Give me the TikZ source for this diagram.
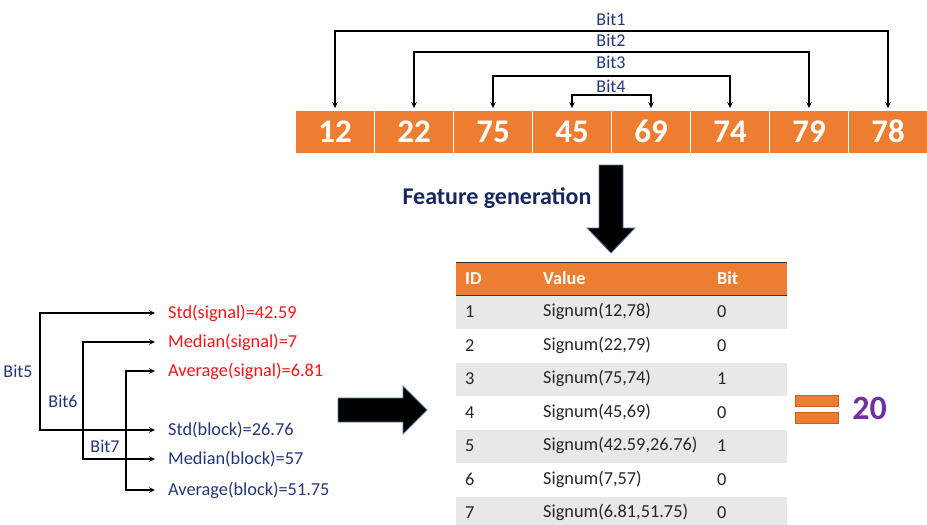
\documentclass[tikz,border=0pt]{standalone}
\usepackage{fontspec}
\setmainfont{Carlito}
\usetikzlibrary{arrows.meta}
\definecolor{orng}{RGB}{237,125,49}
\definecolor{orngdark}{RGB}{200,95,30}
\definecolor{navy}{RGB}{35,55,120}
\definecolor{fgnavy}{RGB}{22,40,95}
\definecolor{myred}{RGB}{250,20,20}
\definecolor{rowgray}{RGB}{232,232,232}
\definecolor{tabtext}{RGB}{38,38,38}
\definecolor{purp}{RGB}{112,48,160}
\definecolor{arrowline}{RGB}{80,120,170}
\tikzset{
  cell/.style={draw=white, line width=0.8pt, fill=orng, minimum width=79pt, minimum height=43pt,
    inner sep=0pt, text=white, font=\fontsize{33}{36}\selectfont\bfseries},
  bitlbl/.style={text=navy, font=\fontsize{18}{19}\selectfont, inner sep=0pt},
  conn/.style={line width=1.4pt, {Stealth[length=6pt,width=5.5pt]}-{Stealth[length=6pt,width=5.5pt]}},
  lbl/.style={anchor=west, inner sep=0pt, font=\fontsize{18.3}{20}\selectfont},
  th/.style={anchor=west, inner sep=0pt, text=white, font=\fontsize{18.3}{20}\selectfont\bfseries},
  td/.style={anchor=west, inner sep=0pt, text=tabtext, font=\fontsize{18.3}{20}\selectfont},
  bigarrow/.style={fill=black, draw=arrowline, line width=0.8pt, line join=miter},
}
\begin{document}
\begin{tikzpicture}[x=1pt, y=-1pt]
\useasboundingbox (0,0) rectangle (927,525);
% top cells
\foreach \v [count=\i] in {12,22,75,45,69,74,79,78}{
  \node[cell] (c\i) at ({335+79*(\i-1)}, 131.5) {\v};
}
% bit connectors
\coordinate (h1) at (611,31);
\coordinate (h2) at (611,52);
\coordinate (h3) at (611,76);
\coordinate (h4) at (611,95);
\draw[conn, shorten <=1.5pt, shorten >=1.5pt] (c1.north) |- (h1) -| (c8.north);
\draw[conn, shorten <=1.5pt, shorten >=1.5pt] (c2.north) |- (h2) -| (c7.north);
\draw[conn, shorten <=1.5pt, shorten >=1.5pt] (c3.north) |- (h3) -| (c6.north);
\draw[conn, shorten <=1.5pt, shorten >=1.5pt] (c4.north) |- (h4) -| (c5.north);
\node[bitlbl] (b1) at (611,19) {Bit1};
\node[bitlbl] (b2) at (611,40) {Bit2};
\node[bitlbl] (b3) at (611,62) {Bit3};
\node[bitlbl] (b4) at (611,86) {Bit4};
% feature generation
\node[text=fgnavy, font=\fontsize{24}{26}\selectfont\bfseries, inner sep=0pt] (fg) at (497,198) {Feature generation};
\draw[bigarrow] (599,165) -- (623,165) -- (623,228) -- (635,228) -- (611,253) -- (587,228) -- (599,228) -- cycle;
% left labels
\node[lbl, text=myred] (l1) at (168,313) {Std(signal)=42.59};
\node[lbl, text=myred] (l2) at (168,342) {Median(signal)=7};
\node[lbl, text=myred] (l3) at (168,371) {Average(signal)=6.81};
\node[lbl, text=navy] (l4) at (168,430) {Std(block)=26.76};
\node[lbl, text=navy] (l5) at (168,459) {Median(block)=57};
\node[lbl, text=navy] (l6) at (168,490) {Average(block)=51.75};
\coordinate (k5) at (40,371);
\coordinate (k6) at (83,400);
\coordinate (k7) at (126,430);
\draw[conn, shorten <=13pt, shorten >=13pt] (l1.west) -| (k5) |- (l4.west);
\draw[conn, shorten <=13pt, shorten >=13pt] (l2.west) -| (k6) |- (l5.west);
\draw[conn, shorten <=13pt, shorten >=13pt] (l3.west) -| (k7) |- (l6.west);
\node[bitlbl] (b5) at (18,371) {Bit5};
\node[bitlbl] (b6) at (63,401) {Bit6};
\node[bitlbl] (b7) at (105,446) {Bit7};
% right arrow
\draw[bigarrow] (338,398) -- (403,398) -- (403,386) -- (427,410) -- (403,434) -- (403,422) -- (338,422) -- cycle;
% table
\fill[orng] (456,262) rectangle (787,295);
\foreach \r in {1,3,5,7}{
  \fill[rowgray] (456,{295+33.5*(\r-1)+1}) rectangle (787,{295+33.5*\r});
}
\draw[line width=1pt, black!80] (456,262) -- (787,262);
\draw[line width=1pt, black!80] (456,295) -- (787,295);
\node[th] (hid) at (465,278.5) {ID};
\node[th] (hval) at (543,278.5) {Value};
\node[th] (hbit) at (717,278.5) {Bit};
\foreach \v/\b [count=\i] in {{Signum(12,78)}/0,{Signum(22,79)}/0,{Signum(75,74)}/1,{Signum(45,69)}/0,{Signum(42.59,26.76)}/1,{Signum(7,57)}/0,{Signum(6.81,51.75)}/0}{
  \node[td] (id\i) at (465,{295+33.5*(\i-0.5)}) {\i};
  \node[td] (val\i) at (543,{295+33.5*(\i-0.5)}) {\v};
  \node[td] (bit\i) at (717,{295+33.5*(\i-0.5)}) {\b};
}
% equals
\draw[fill=orng, draw=orngdark, line width=0.6pt] (795,395) rectangle (838,406);
\draw[fill=orng, draw=orngdark, line width=0.6pt] (795,412) rectangle (838,423);
\node[text=purp, font=\fontsize{34}{36}\selectfont\bfseries, inner sep=0pt] (res) at (869.5,408) {20};
\end{tikzpicture}
\end{document}
